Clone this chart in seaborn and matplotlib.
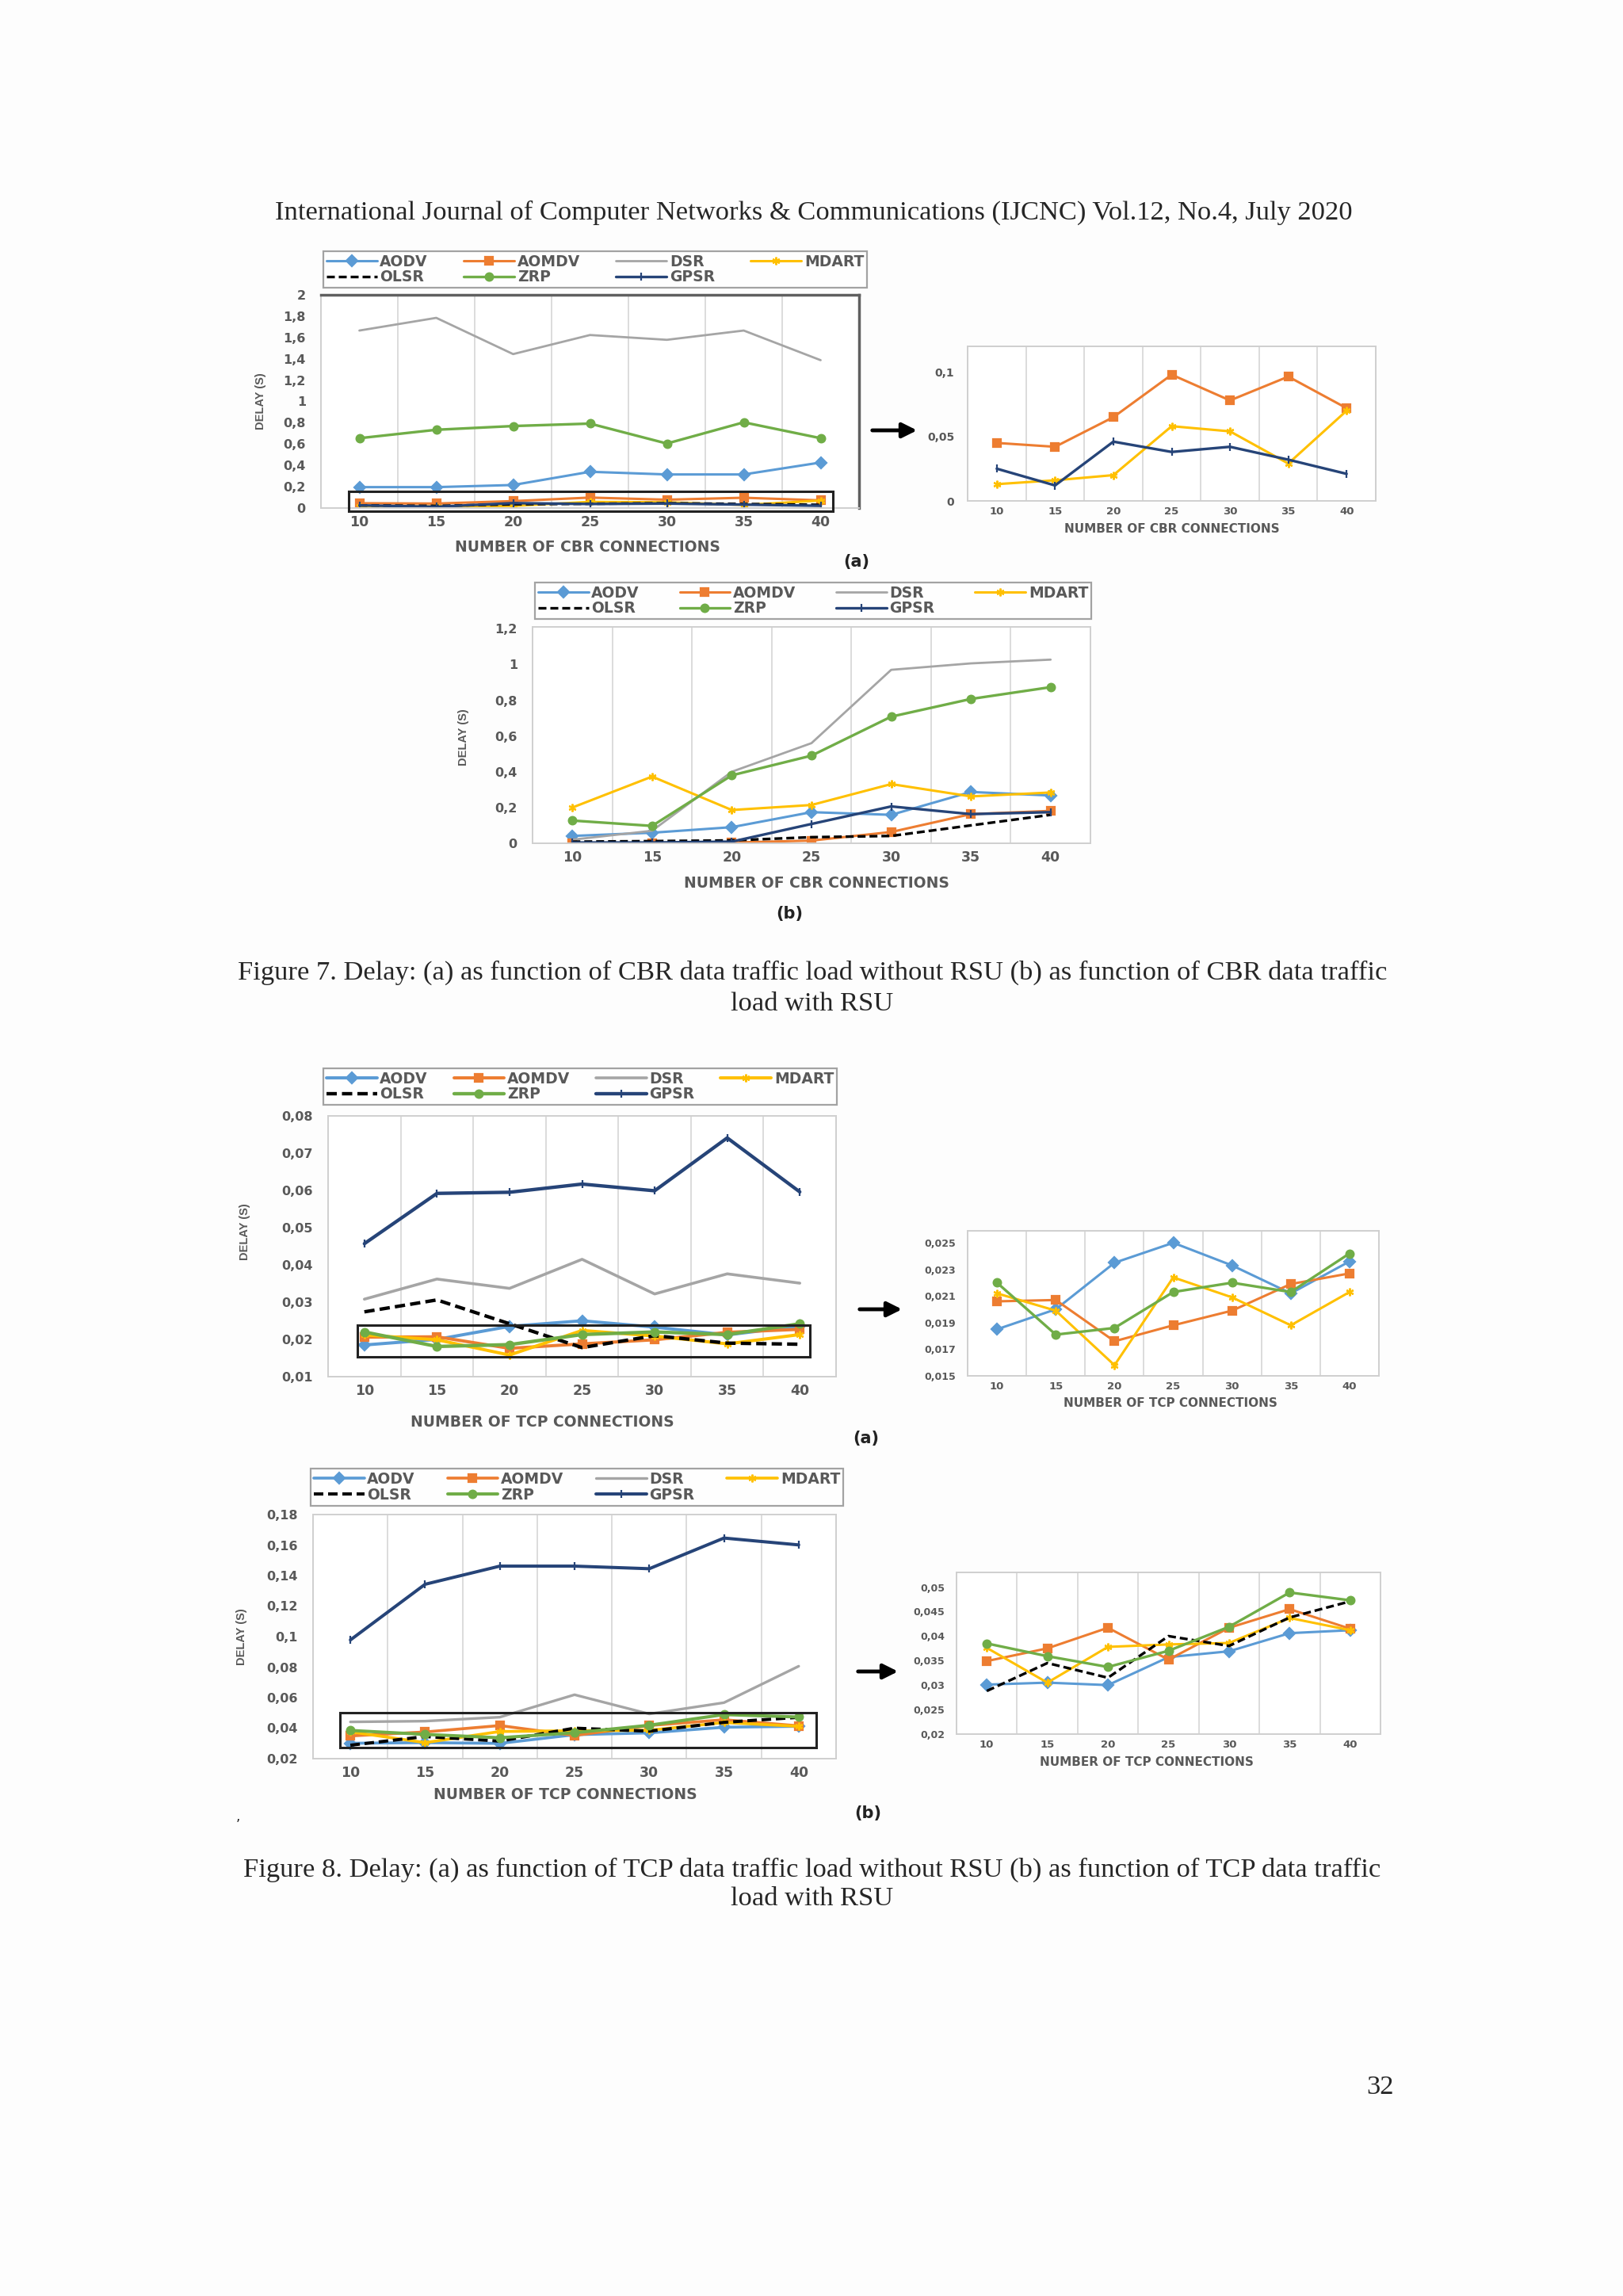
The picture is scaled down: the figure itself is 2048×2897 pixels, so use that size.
import numpy as np
import matplotlib
matplotlib.use('Agg')
import matplotlib.pyplot as plt
import seaborn as sns
from matplotlib.ticker import FuncFormatter
from matplotlib.patches import Rectangle

# x axis: number of connections
connections = [10, 15, 20, 25, 30, 35, 40]
protocols = ['AODV', 'AOMDV', 'DSR', 'MDART', 'OLSR', 'ZRP', 'GPSR']

# Figure 7 (a): CBR traffic, no RSU
cbr_norsu_aodv = [0.196, 0.196, 0.216, 0.340, 0.315, 0.315, 0.427]
cbr_norsu_aomdv = [0.045, 0.042, 0.065, 0.098, 0.078, 0.0965, 0.072]
cbr_norsu_dsr = [1.665, 1.784, 1.444, 1.623, 1.578, 1.665, 1.387]
cbr_norsu_mdart = [0.013, 0.016, 0.020, 0.058, 0.054, 0.029, 0.070]
cbr_norsu_olsr = [0.025, 0.020, 0.035, 0.040, 0.045, 0.038, 0.030]
cbr_norsu_zrp = [0.655, 0.734, 0.769, 0.792, 0.605, 0.804, 0.655]
cbr_norsu_gpsr = [0.025, 0.012, 0.046, 0.038, 0.042, 0.032, 0.021]

# Figure 7 (b): CBR traffic, with RSU
cbr_rsu_aodv = [0.041, 0.059, 0.090, 0.174, 0.159, 0.287, 0.267]
cbr_rsu_aomdv = [0.000, 0.000, 0.004, 0.015, 0.063, 0.163, 0.181]
cbr_rsu_dsr = [0.020, 0.070, 0.400, 0.560, 0.970, 1.006, 1.027]
cbr_rsu_mdart = [0.200, 0.373, 0.186, 0.214, 0.331, 0.262, 0.284]
cbr_rsu_olsr = [0.009, 0.012, 0.016, 0.034, 0.041, 0.100, 0.159]
cbr_rsu_zrp = [0.127, 0.097, 0.380, 0.490, 0.708, 0.807, 0.873]
cbr_rsu_gpsr = [0.004, 0.004, 0.009, 0.108, 0.206, 0.163, 0.174]

# Figure 8 (a): TCP traffic, no RSU
tcp_norsu_aodv = [0.0185, 0.0200, 0.0235, 0.0250, 0.0233, 0.0212, 0.0236]
tcp_norsu_aomdv = [0.0206, 0.0207, 0.0176, 0.0188, 0.0199, 0.0219, 0.0227]
tcp_norsu_dsr = [0.0308, 0.0362, 0.0337, 0.0415, 0.0322, 0.0376, 0.0351]
tcp_norsu_mdart = [0.0212, 0.0199, 0.0158, 0.0224, 0.0209, 0.0188, 0.0213]
tcp_norsu_olsr = [0.0274, 0.0306, 0.0242, 0.0178, 0.0210, 0.0190, 0.0187]
tcp_norsu_zrp = [0.0220, 0.0181, 0.0186, 0.0213, 0.0220, 0.0213, 0.0242]
tcp_norsu_gpsr = [0.0457, 0.0592, 0.0595, 0.0617, 0.0599, 0.0741, 0.0596]

# Figure 8 (b): TCP traffic, with RSU
tcp_rsu_aodv = [0.0301, 0.0305, 0.0300, 0.0357, 0.0369, 0.0406, 0.0412]
tcp_rsu_aomdv = [0.0349, 0.0375, 0.0417, 0.0352, 0.0417, 0.0455, 0.0415]
tcp_rsu_dsr = [0.0441, 0.0446, 0.0472, 0.0619, 0.0493, 0.0567, 0.0806]
tcp_rsu_mdart = [0.0376, 0.0305, 0.0378, 0.0383, 0.0386, 0.0437, 0.0412]
tcp_rsu_olsr = [0.0288, 0.0345, 0.0315, 0.0400, 0.0380, 0.0438, 0.0471]
tcp_rsu_zrp = [0.0385, 0.0359, 0.0337, 0.0370, 0.0419, 0.0489, 0.0473]
tcp_rsu_gpsr = [0.0978, 0.1343, 0.1462, 0.1462, 0.1445, 0.1646, 0.1601]

cbr_norsu = dict(zip(protocols, [cbr_norsu_aodv, cbr_norsu_aomdv, cbr_norsu_dsr, cbr_norsu_mdart,
                                 cbr_norsu_olsr, cbr_norsu_zrp, cbr_norsu_gpsr]))
cbr_rsu = dict(zip(protocols, [cbr_rsu_aodv, cbr_rsu_aomdv, cbr_rsu_dsr, cbr_rsu_mdart,
                               cbr_rsu_olsr, cbr_rsu_zrp, cbr_rsu_gpsr]))
tcp_norsu = dict(zip(protocols, [tcp_norsu_aodv, tcp_norsu_aomdv, tcp_norsu_dsr, tcp_norsu_mdart,
                                 tcp_norsu_olsr, tcp_norsu_zrp, tcp_norsu_gpsr]))
tcp_rsu = dict(zip(protocols, [tcp_rsu_aodv, tcp_rsu_aomdv, tcp_rsu_dsr, tcp_rsu_mdart,
                               tcp_rsu_olsr, tcp_rsu_zrp, tcp_rsu_gpsr]))

# colour, marker, linestyle, linewidth
STYLE = {
    'AODV': ('#5B9BD5', 'D', '-', 2.2),
    'AOMDV': ('#ED7D31', 's', '-', 2.2),
    'DSR': ('#A5A5A5', None, '-', 2.0),
    'MDART': ('#FFC000', (6, 2, 0), '-', 2.2),
    'OLSR': ('#000000', None, (0, (3, 1.5)), 2.4),
    'ZRP': ('#70AD47', 'o', '-', 2.4),
    'GPSR': ('#264478', '|', '-', 2.4),
}

W, H = 2048, 2897
GRAY = '#595959'

sns.set_style('white')
plt.rcParams['font.family'] = ['DejaVu Sans']

fig = plt.figure(figsize=(W / 100, H / 100), dpi=100)
fig.patch.set_facecolor('#fdfdfd')


def box(x0, y0, x1, y1):
    return [x0 / W, 1 - y1 / H, (x1 - x0) / W, (y1 - y0) / H]


def txt(x, y, s, **kw):
    kw.setdefault('ha', 'center')
    kw.setdefault('va', 'center')
    fig.text(x / W, 1 - y / H, s, **kw)


def comma(v, pos):
    return ('%g' % round(v, 4)).replace('.', ',')


def chart(pos, table, names, ylim, ystep, xsize=12.5, ysize=11.5, msize=7, lwk=1.0):
    ax = fig.add_axes(box(*pos))
    for name in names:
        color, marker, ls, lw = STYLE[name]
        kw = dict(color=color, linestyle=ls, linewidth=lw * lwk, label=name, legend=False)
        if marker is not None:
            kw.update(marker=marker, markersize=msize, markeredgecolor=color,
                      markerfacecolor=color, markeredgewidth=1.6)
        sns.lineplot(x=connections, y=table[name], ax=ax, **kw)
    ax.set_xlim(7.5, 42.5)
    ax.set_xticks(connections)
    ax.set_xticks(np.arange(12.5, 40, 5), minor=True)
    ax.set_yticks(np.arange(ylim[0], ylim[1] + 1e-9, ystep))
    ax.set_ylim(*ylim)
    ax.yaxis.set_major_formatter(FuncFormatter(comma))
    ax.grid(False)
    ax.grid(which='minor', axis='x', color='#d9d9d9', linewidth=1.3)
    ax.tick_params(which='both', length=0, colors=GRAY)
    ax.tick_params(axis='x', labelsize=xsize, pad=xsize * 0.5)
    ax.tick_params(axis='y', labelsize=ysize, pad=ysize * 1.2)
    for lab in ax.get_xticklabels() + ax.get_yticklabels():
        lab.set_fontweight('bold')
    for s in ax.spines.values():
        s.set_color('#cfcfcf')
        s.set_linewidth(1.4)
    ax.set_xlabel('')
    ax.set_ylabel('')
    ax.set_facecolor('white')
    return ax


def legend(ax, pos, size):
    handles, labels = ax.get_legend_handles_labels()
    lookup = dict(zip(labels, handles))
    order = ['AODV', 'OLSR', 'AOMDV', 'ZRP', 'DSR', 'GPSR', 'MDART']
    x0, y0, x1, y1 = pos
    leg = fig.legend([lookup[n] for n in order], order, loc='center',
                     bbox_to_anchor=(x0 / W, 1 - y1 / H, (x1 - x0) / W, (y1 - y0) / H),
                     mode='expand', ncol=4, fontsize=size, frameon=True, fancybox=False,
                     edgecolor='#8c8c8c', handlelength=3.4, handletextpad=0.2,
                     borderpad=0.2, labelspacing=0.05, columnspacing=0.5,
                     labelcolor=GRAY, borderaxespad=0)
    leg.get_frame().set_linewidth(1.6)
    for t in leg.get_texts():
        t.set_fontweight('bold')


def inset_box(ax, x0, y0, x1, y1):
    ax.add_patch(Rectangle((x0, y0), x1 - x0, y1 - y0, fill=False,
                           edgecolor='#222222', linewidth=2.2, clip_on=False, zorder=5))


def arrow(x0, x1, y):
    fig.add_artist(matplotlib.patches.FancyArrowPatch(
        (x0 / W, 1 - y / H), (x1 / W, 1 - y / H), transform=fig.transFigure,
        arrowstyle='-|>', mutation_scale=28, linewidth=3.5, color='black'))


label_kw = dict(color=GRAY, fontsize=13.5, fontweight='bold')
ylab_kw = dict(color=GRAY, fontsize=10.5, fontweight='bold', rotation=90, family='Liberation Sans')
small_kw = dict(color=GRAY, fontsize=11, fontweight='bold')
serif_kw = dict(family='Liberation Serif', fontsize=24.8)
tag_kw = dict(fontsize=15, fontweight='bold', color='#222222')

# header
txt(1027, 268, 'International Journal of Computer Networks & Communications (IJCNC) Vol.12, No.4, July 2020',
    **serif_kw)

# ---- Figure 7 (a)
ax1 = chart((405, 372, 1084, 641), cbr_norsu, protocols, (0, 2), 0.2)
ax1.spines['top'].set_color('#606060')
ax1.spines['right'].set_color('#606060')
ax1.spines['top'].set_linewidth(2.5)
ax1.spines['right'].set_linewidth(2.5)
inset_box(ax1, 9.3, -0.027, 40.8, 0.154)
legend(ax1, (408, 318, 1094, 362), 13.5)
txt(741, 690, 'NUMBER OF CBR CONNECTIONS', **label_kw)
txt(329, 506, 'DELAY (S)', **ylab_kw)
txt(1081, 709, '(a)', **tag_kw)
arrow(1098, 1160, 543)

ax2 = chart((1221, 437, 1736, 632), cbr_norsu, ['AOMDV', 'MDART', 'GPSR'], (0, 0.12), 0.05,
            xsize=9.5, ysize=10)
txt(1479, 667, 'NUMBER OF CBR CONNECTIONS', **small_kw)

# ---- Figure 7 (b)
ax3 = chart((672, 791, 1376, 1064), cbr_rsu, protocols, (0, 1.21), 0.2)
legend(ax3, (675, 735, 1377, 781), 13.5)
txt(1030, 1114, 'NUMBER OF CBR CONNECTIONS', **label_kw)
txt(585, 930, 'DELAY (S)', **ylab_kw)
txt(996, 1153, '(b)', **tag_kw)

txt(1025, 1227, 'Figure 7. Delay: (a) as function of CBR data traffic load without RSU (b) as function of CBR data traffic',
    **serif_kw)
txt(1025, 1267, 'load with RSU', **serif_kw)

# ---- Figure 8 (a)
ax4 = chart((414, 1408, 1055, 1737), tcp_norsu, protocols, (0.01, 0.08), 0.01, lwk=1.3)
inset_box(ax4, 9.5, 0.0153, 40.7, 0.0239)
legend(ax4, (408, 1349, 1056, 1393), 13.5)
txt(684, 1794, 'NUMBER OF TCP CONNECTIONS', **label_kw)
txt(309, 1554, 'DELAY (S)', **ylab_kw)
txt(1093, 1815, '(a)', **tag_kw)
arrow(1082, 1141, 1652)

ax5 = chart((1221, 1553, 1740, 1736), tcp_norsu, ['AODV', 'AOMDV', 'MDART', 'ZRP'],
            (0.015, 0.0259), 0.002, xsize=9.5, ysize=9)
txt(1477, 1771, 'NUMBER OF TCP CONNECTIONS', **small_kw)

# ---- Figure 8 (b)
ax6 = chart((395, 1911, 1055, 2219), tcp_rsu, protocols, (0.02, 0.18), 0.02, lwk=1.2)
inset_box(ax6, 9.3, 0.0273, 41.2, 0.0501)
legend(ax6, (392, 1856, 1064, 1897), 13.5)
txt(713, 2264, 'NUMBER OF TCP CONNECTIONS', **label_kw)
txt(305, 2065, 'DELAY (S)', **ylab_kw)
txt(1095, 2288, '(b)', **tag_kw)
txt(300, 2292, ',', fontsize=12, color='#222222')
arrow(1080, 1136, 2109)

ax7 = chart((1207, 1984, 1742, 2188), tcp_rsu, ['AODV', 'AOMDV', 'MDART', 'OLSR', 'ZRP'],
            (0.02, 0.053), 0.005, xsize=9.5, ysize=9)
txt(1447, 2224, 'NUMBER OF TCP CONNECTIONS', **small_kw)

txt(1025, 2359, 'Figure 8. Delay: (a) as function of TCP data traffic load without RSU (b) as function of TCP data traffic',
    **serif_kw)
txt(1025, 2396, 'load with RSU', **serif_kw)

txt(1741, 2634, '32', **serif_kw)

fig.savefig('out.png', dpi=100, facecolor=fig.get_facecolor())
